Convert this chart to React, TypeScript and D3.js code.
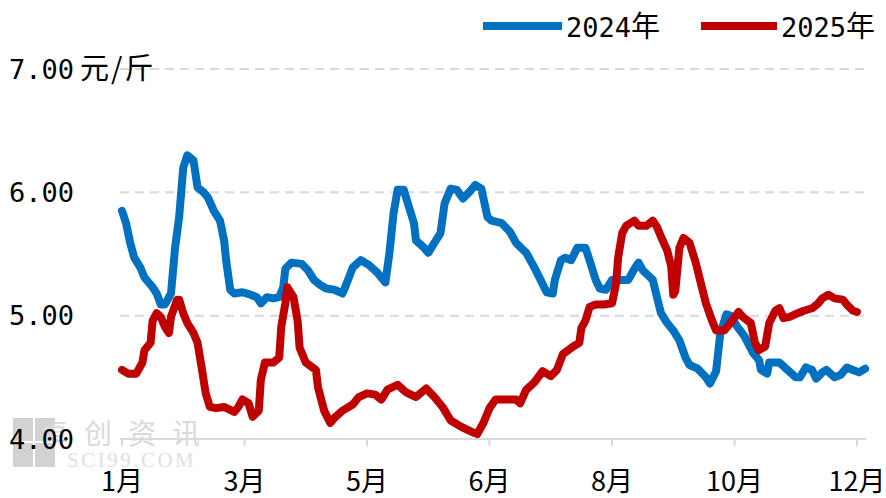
import React, { useEffect } from "react";
import * as d3 from "d3";

// readings, x = day of year (0 = Jan 1)
const days2024 = [0, 2, 4, 6, 9, 11, 15, 17, 19, 21, 24, 26, 28, 30, 32, 35, 37, 40, 42, 45, 48, 50, 51, 53, 55, 59, 63, 66, 68, 71, 74, 77, 79, 80, 83, 88, 91, 94, 97, 100, 104, 108, 110, 113, 117, 121, 125, 129, 131, 133, 135, 138, 140, 143, 144, 148, 150, 153, 156, 158, 161, 164, 167, 170, 173, 176, 179, 181, 186, 190, 193, 198, 202, 205, 208, 211, 212, 215, 217, 220, 223, 227, 229, 232, 234, 237, 240, 244, 248, 251, 253, 255, 260, 262, 264, 267, 270, 273, 276, 278, 282, 286, 288, 291, 293, 296, 298, 301, 305, 309, 312, 313, 316, 317, 322, 326, 330, 332, 335, 338, 340, 343, 345, 349, 352, 355, 358, 361, 364];
const price2024 = [5.85, 5.75, 5.59, 5.47, 5.39, 5.31, 5.23, 5.18, 5.09, 5.09, 5.18, 5.55, 5.8, 6.2, 6.3, 6.26, 6.04, 6.0, 5.96, 5.85, 5.77, 5.61, 5.45, 5.21, 5.18, 5.19, 5.17, 5.15, 5.1, 5.15, 5.14, 5.15, 5.23, 5.38, 5.43, 5.42, 5.37, 5.29, 5.25, 5.22, 5.21, 5.18, 5.26, 5.39, 5.45, 5.41, 5.35, 5.27, 5.51, 5.83, 6.02, 6.02, 5.91, 5.75, 5.61, 5.55, 5.51, 5.59, 5.67, 5.91, 6.03, 6.02, 5.95, 6.0, 6.06, 6.03, 5.8, 5.77, 5.75, 5.68, 5.59, 5.51, 5.39, 5.29, 5.19, 5.18, 5.29, 5.45, 5.47, 5.45, 5.55, 5.55, 5.45, 5.29, 5.22, 5.21, 5.29, 5.29, 5.29, 5.38, 5.43, 5.37, 5.29, 5.15, 5.02, 4.94, 4.88, 4.8, 4.66, 4.6, 4.57, 4.5, 4.45, 4.55, 4.85, 5.01, 5.0, 4.92, 4.83, 4.7, 4.64, 4.56, 4.53, 4.62, 4.62, 4.56, 4.5, 4.5, 4.58, 4.56, 4.49, 4.54, 4.56, 4.5, 4.52, 4.58, 4.56, 4.54, 4.57];

const days2025 = [0, 3, 7, 10, 11, 14, 15, 17, 19, 21, 23, 24, 27, 28, 30, 32, 35, 37, 39, 41, 43, 46, 50, 55, 57, 59, 62, 64, 67, 68, 70, 74, 77, 78, 80, 81, 84, 86, 87, 90, 95, 96, 99, 102, 104, 108, 113, 116, 120, 124, 127, 130, 135, 139, 144, 149, 153, 157, 161, 166, 171, 174, 177, 180, 183, 188, 193, 195, 198, 202, 206, 210, 213, 216, 221, 224, 225, 227, 229, 232, 236, 240, 242, 243, 245, 247, 251, 253, 257, 260, 262, 264, 267, 269, 270, 271, 273, 275, 278, 281, 284, 286, 289, 291, 295, 298, 302, 304, 308, 310, 312, 315, 317, 320, 322, 324, 327, 331, 334, 338, 341, 343, 346, 349, 353, 355, 358, 360];
const price2025 = [4.56, 4.53, 4.53, 4.62, 4.72, 4.78, 4.96, 5.02, 4.99, 4.91, 4.86, 4.99, 5.13, 5.13, 5.02, 4.94, 4.86, 4.78, 4.58, 4.37, 4.26, 4.25, 4.26, 4.22, 4.26, 4.32, 4.29, 4.18, 4.23, 4.48, 4.62, 4.62, 4.66, 4.91, 5.1, 5.23, 5.15, 4.96, 4.74, 4.62, 4.56, 4.42, 4.23, 4.13, 4.17, 4.23, 4.28, 4.34, 4.37, 4.36, 4.32, 4.4, 4.44, 4.38, 4.34, 4.41, 4.34, 4.26, 4.15, 4.1, 4.06, 4.04, 4.13, 4.25, 4.32, 4.32, 4.32, 4.29, 4.4, 4.46, 4.55, 4.51, 4.56, 4.69, 4.75, 4.78, 4.9, 4.96, 5.07, 5.09, 5.09, 5.1, 5.26, 5.47, 5.67, 5.73, 5.77, 5.73, 5.73, 5.77, 5.72, 5.64, 5.53, 5.4, 5.17, 5.2, 5.55, 5.63, 5.59, 5.43, 5.23, 5.1, 4.96, 4.88, 4.88, 4.94, 5.03, 4.99, 4.94, 4.78, 4.72, 4.75, 4.94, 5.04, 5.06, 4.98, 4.99, 5.02, 5.04, 5.06, 5.1, 5.14, 5.17, 5.14, 5.13, 5.09, 5.04, 5.03];

const tickDays = [0, 60, 120, 180, 240, 300, 360];
const tickLabels = ["1月", "3月", "5月", "6月", "8月", "10月", "12月"];
const yTicks = [4, 5, 6, 7];

const W = 886;
const H = 498;
const BLUE = "#0070C0";
const RED = "#C00000";
const NUM_FONT = "'DejaVu Sans Mono', monospace";
const CJK_FONT = "'Noto Sans CJK SC', sans-serif";

export default function App() {
  useEffect(() => {
    document.body.style.margin = "0";
  }, []);

  const x = d3.scaleLinear().domain([0, 360]).range([122, 857]);
  const y = d3.scaleLinear().domain([4, 7]).range([439, 69]);

  const line = d3
    .line<[number, number]>()
    .x((d) => x(d[0]))
    .y((d) => y(d[1]));

  const s2024 = days2024.map((d, i) => [d, price2024[i]] as [number, number]);
  const s2025 = days2025.map((d, i) => [d, price2025[i]] as [number, number]);

  const x0 = x(0) - 2;
  const x1 = x(364) + 1;

  return (
    <svg width={W} height={H} style={{ display: "block", background: "#fff" }}>
      {/* watermark */}
      <g>
        <rect x={13} y={418} width={42} height={49} fill="#d2d2d2" />
        <line x1={34} x2={34} y1={418} y2={467} stroke="#fff" strokeWidth={2} />
        <line x1={13} x2={55} y1={442} y2={442} stroke="#fff" strokeWidth={2} />
        <text x={40} y={444} fontFamily={CJK_FONT} fontSize={28} fill="#dadada" letterSpacing={16}>
          卓创资讯
        </text>
        <text x={67} y={467} fontFamily="'Liberation Serif', serif" fontSize={21} fill="#e0e0e0" letterSpacing={2.5}>
          SCI99.COM
        </text>
      </g>

      {/* grid */}
      {yTicks
        .filter((t) => t > 4)
        .map((t) => (
          <line
            key={t}
            x1={x0}
            x2={x1}
            y1={y(t)}
            y2={y(t)}
            stroke="#d9d9d9"
            strokeWidth={2}
            strokeDasharray="9 6"
          />
        ))}
      <line x1={x0} x2={x1} y1={y(4)} y2={y(4)} stroke="#d9d9d9" strokeWidth={2} />
      {tickDays.map((d) => (
        <line key={d} x1={x(d)} x2={x(d)} y1={y(4)} y2={y(4) + 7} stroke="#d9d9d9" strokeWidth={2} />
      ))}

      {/* y labels */}
      {yTicks.map((t) => (
        <text key={t} x={9} y={y(t)} dy="0.36em" fontSize={27} fill="#000">
          <tspan fontFamily={NUM_FONT}>{t.toFixed(2)}</tspan>
          {t === 7 ? (
            <tspan fontFamily={CJK_FONT} fontSize={29} letterSpacing={2} dx={6}>
              元/斤
            </tspan>
          ) : null}
        </text>
      ))}

      {/* x labels */}
      {tickDays.map((d, i) => (
        <text key={d} x={x(d)} y={481} dy="0.36em" textAnchor="middle" fontFamily={CJK_FONT} fontSize={27} fill="#000">
          {tickLabels[i]}
        </text>
      ))}

      {/* series */}
      <path d={line(s2024) || ""} fill="none" stroke={BLUE} strokeWidth={8} strokeLinejoin="round" strokeLinecap="round" />
      <path d={line(s2025) || ""} fill="none" stroke={RED} strokeWidth={8} strokeLinejoin="round" strokeLinecap="round" />

      {/* legend */}
      <line x1={483} x2={562} y1={26} y2={26} stroke={BLUE} strokeWidth={8} />
      <text x={566} y={27} dy="0.36em" fontSize={27} fill="#000">
        <tspan fontFamily={NUM_FONT}>2024</tspan>
        <tspan fontFamily={CJK_FONT} fontSize={29}>年</tspan>
      </text>
      <line x1={701} x2={777} y1={26} y2={26} stroke={RED} strokeWidth={8} />
      <text x={781} y={27} dy="0.36em" fontSize={27} fill="#000">
        <tspan fontFamily={NUM_FONT}>2025</tspan>
        <tspan fontFamily={CJK_FONT} fontSize={29}>年</tspan>
      </text>
    </svg>
  );
}
